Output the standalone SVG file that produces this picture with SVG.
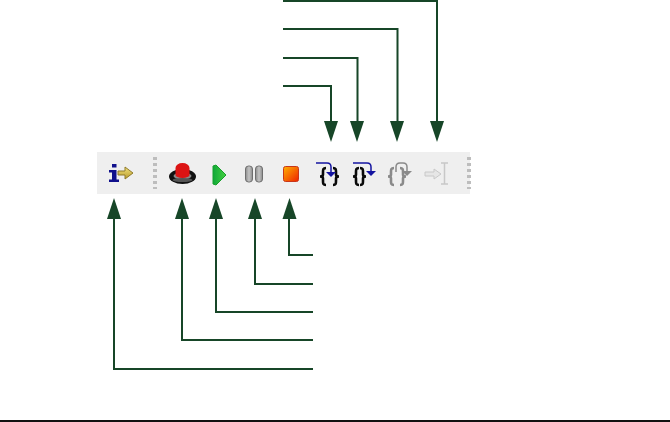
<svg xmlns="http://www.w3.org/2000/svg" width="670" height="422" viewBox="0 0 670 422">
<style>
.c{fill:none;stroke:#174628;stroke-width:2}
.g{fill:#174628}
.grip{fill:#bdbdbd}
.b{fill:none;stroke:#0a0a0a;stroke-width:2.600}
.o{fill:none;stroke:#8a8a8a;stroke-width:2.600}
</style>
<defs>
<g id="grip"><rect class="grip" x="0" y="0" width="4" height="3"/><rect class="grip" x="0" y="6" width="4" height="3"/><rect class="grip" x="0" y="12" width="4" height="3"/><rect class="grip" x="0" y="18" width="4" height="3"/><rect class="grip" x="0" y="24" width="4" height="3"/><rect class="grip" x="0" y="30" width="4" height="2"/></g>
<polygon id="down" class="g" points="-7,-21 7,-21 0,0"/>
<polygon id="up" class="g" points="0,0 7,21 -7,21"/>
<path id="lb" d="M6 0C3 0 3 1.500 3 4V6.500C3 8 2 8.500 0 8.500 2 8.500 3 9 3 10.500V13C3 15.500 3 17 6 17"/>
<path id="rb" d="M0 0C3 0 3 1.500 3 4V6.500C3 8 4 8.500 6 8.500 4 8.500 3 9 3 10.500V13C3 15.500 3 17 0 17"/>
<linearGradient id="st" x1="0" y1="0" x2="1" y2="1"><stop offset="0" stop-color="#ffb000"/><stop offset="1" stop-color="#ee2200"/></linearGradient>
<linearGradient id="ar" x1="0" y1="0" x2="0" y2="1"><stop offset="0" stop-color="#f2e27a"/><stop offset="1" stop-color="#b89a2c"/></linearGradient>
<linearGradient id="gr" x1="0" y1="0" x2="1" y2="0"><stop offset="0" stop-color="#0fa838"/><stop offset="1" stop-color="#44d040"/></linearGradient>
<linearGradient id="pz" x1="0" y1="0" x2="1" y2="0"><stop offset="0" stop-color="#8c8c8c"/><stop offset="0.500" stop-color="#c4c4c4"/><stop offset="1" stop-color="#8c8c8c"/></linearGradient>
</defs>
<rect id="toolbar" x="97" y="152" width="373" height="42" fill="#efefef"/>
<use href="#grip" x="153" y="157"/>
<use href="#grip" x="467" y="157"/>
<g id="btn-info">
<path d="M109 170h7.500v9.500h2.500v2.500h-10v-2.500h3v-7h-3z" fill="#10108c"/><rect x="112" y="164" width="4.500" height="3.500" fill="#10108c"/>
<path d="M118 171h7v-4l8 6-8 6v-4h-7z" fill="url(#ar)" stroke="#8f7a2a" stroke-width="1"/>
</g>
<g id="btn-breakpoint">
<ellipse cx="182.500" cy="176.500" rx="13.500" ry="7.500" fill="#111"/>
<ellipse cx="182.500" cy="176" rx="9" ry="3.500" fill="#8a8a8a"/>
<ellipse cx="182.500" cy="180" rx="10" ry="2" fill="#555"/>
<path d="M175.500 175v-7a7 5 0 0 1 14 0v7a7 3 0 0 1-14 0z" fill="#dc1414"/>
</g>
<g id="btn-run">
<polygon points="213,166 213,184 216,185 226,175 216,165" fill="url(#gr)" stroke="#17a02c"/>
</g>
<g id="btn-pause">
<rect x="245.500" y="166" width="7" height="16" rx="3" fill="url(#pz)" stroke="#6f6f6f"/>
<rect x="255.500" y="166" width="7" height="16" rx="3" fill="url(#pz)" stroke="#6f6f6f"/>
</g>
<g id="btn-stop">
<rect x="283.500" y="166.500" width="15" height="15" rx="2" fill="url(#st)" stroke="#c8361a"/>
</g>
<g id="btn-step-into">
<use href="#lb" x="320" y="168" class="b"/>
<use href="#rb" x="333" y="168" class="b"/>
<path d="M316 163h11q4 0 4 4v7" fill="none" stroke="#1414a0" stroke-width="1.500"/>
<polygon points="326,172 336,172 331,177" fill="#1414a0"/>
</g>
<g id="btn-step-over">
<use href="#lb" x="353" y="168" class="b"/>
<use href="#rb" x="360" y="168" class="b"/>
<path d="M353 163h14q4 0 4 4v5" fill="none" stroke="#1414a0" stroke-width="1.500"/>
<polygon points="366,171 376,171 371,176" fill="#1414a0"/>
</g>
<g id="btn-step-out">
<use href="#lb" x="388" y="168" class="o"/>
<use href="#rb" x="400" y="168" class="o"/>
<path d="M396 172v-5q0-4 4-4h3q4 0 4 4v5" fill="none" stroke="#8a8a8a" stroke-width="1.500"/>
<polygon points="402,171 412,171 407,176" fill="#8a8a8a"/>
</g>
<g id="btn-run-to-cursor">
<path d="M425 172h9v-3l7 5-7 5v-3h-9z" fill="#e6e6e6" stroke="#c8c8c8"/>
<path d="M441 163h7M441 184h7M444.500 163v21" fill="none" stroke="#c8c8c8" stroke-width="1.500"/>
</g>
<g id="connectors">
<path class="c" d="M283 1H437V125"/>
<path class="c" d="M283 29H397.500V125"/>
<path class="c" d="M283 58H357.500V125"/>
<path class="c" d="M283 86H331V125"/>
<path class="c" d="M313 255H289V215"/>
<path class="c" d="M313 284H255V215"/>
<path class="c" d="M313 312H216V215"/>
<path class="c" d="M313 340H182V215"/>
<path class="c" d="M313 369H114V215"/>
<use href="#down" x="437" y="142"/>
<use href="#down" x="397" y="142"/>
<use href="#down" x="357" y="142"/>
<use href="#down" x="331" y="142"/>
<use href="#up" x="289.500" y="198"/>
<use href="#up" x="255" y="198"/>
<use href="#up" x="216" y="198"/>
<use href="#up" x="182" y="198"/>
<use href="#up" x="114" y="198"/>
</g>
<rect id="rule" x="0" y="420" width="670" height="2" fill="#111"/>
</svg>
